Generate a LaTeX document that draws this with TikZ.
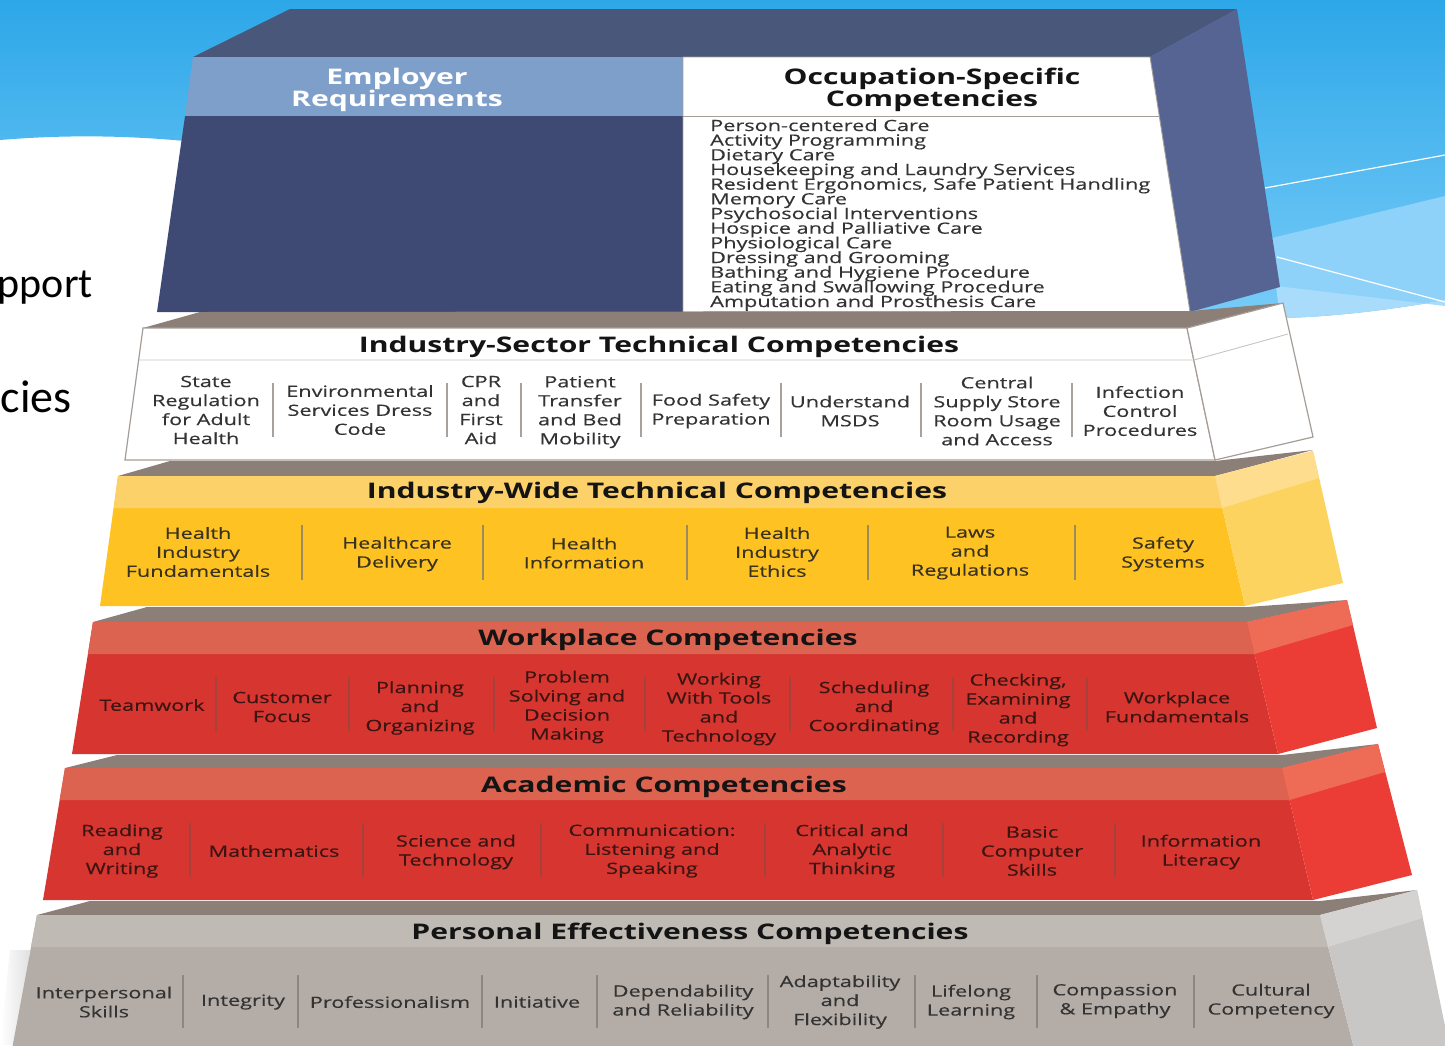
\documentclass[tikz,border=0pt]{standalone}
\usepackage{fontspec}
\newfontfamily\pyr[FakeStretch=1.4]{Open Sans}
\newfontfamily\pyrmed[FakeStretch=1.4,FakeBold=0.3]{Open Sans}
\newfontfamily\slidefont{Carlito}
\definecolor{skytop}{HTML}{2DA7E8}
\definecolor{skybot}{HTML}{78CCF8}
\definecolor{rayA}{HTML}{8ED2FA}
\definecolor{rayB}{HTML}{A8DCFA}
\definecolor{navytop}{HTML}{49577A}
\definecolor{navyside}{HTML}{566493}
\definecolor{navyfront}{HTML}{3F4A74}
\definecolor{empband}{HTML}{7F9FCB}
\definecolor{ledge}{HTML}{8C7F78}
\definecolor{edgegray}{HTML}{A59D97}
\definecolor{yelband}{HTML}{FDD169}
\definecolor{yelmain}{HTML}{FEC323}
\definecolor{yelside}{HTML}{FDD35F}
\definecolor{yelsideband}{HTML}{FEDE8E}
\definecolor{redband}{HTML}{DC6350}
\definecolor{redmain}{HTML}{D63530}
\definecolor{redside}{HTML}{EC3C36}
\definecolor{redsideband}{HTML}{EE6B56}
\definecolor{grayband}{HTML}{C0BAB4}
\definecolor{graymain}{HTML}{B4ACA6}
\definecolor{grayside}{HTML}{C9C7C5}
\definecolor{graysideband}{HTML}{D5D3D1}
\definecolor{txtdark}{HTML}{333333}
\definecolor{txtyel}{HTML}{3A3220}
\definecolor{txtred}{HTML}{3A1512}
\definecolor{divwhite}{HTML}{A8A29D}
\definecolor{divyel}{HTML}{9C8B5F}
\definecolor{divred}{HTML}{A6423C}
\definecolor{divgray}{HTML}{8E8680}
\begin{document}
\begin{tikzpicture}[x=1pt,y=-1pt,
  itm/.style={font=\pyrmed\fontsize{15.5}{19}\selectfont, align=center, inner sep=0pt},
  ttl/.style={font=\pyr\bfseries\fontsize{21.5}{21}\selectfont, align=center, inner sep=0pt, text=black!92},
  lstitem/.style={font=\pyrmed\fontsize{15.5}{15}\selectfont, inner sep=0pt, anchor=base west, text=txtdark},
  slidetext/.style={font=\slidefont\fontsize{42}{42}\selectfont, inner sep=0pt, anchor=base east, text=black},
  divider/.style={line width=1.3pt}]
\path[use as bounding box] (0,0) rectangle (1445,1045);
\clip (0,0) rectangle (1445,1045);
\fill[white] (0,0) rectangle (1445,1045);

% sky with curved lower edge
\shade[top color=skytop, bottom color=skybot]
  (0,0) -- (1445,0) -- (1445,300) .. controls (1390,310) and (1330,317) .. (1280,318)
  -- (700,318) -- (185,141) .. controls (120,135) and (60,135) .. (0,140) -- cycle;
\fill[rayA] (1272,238) -- (1445,196) -- (1445,300) .. controls (1390,310) and (1330,317) .. (1280,318) -- cycle;
\fill[rayB] (1276,286) -- (1445,306) -- (1445,300) .. controls (1390,310) and (1330,317) .. (1280,318) -- cycle;
\draw[white, line width=1.2pt] (1265,188) -- (1445,155);
\draw[white, line width=1.2pt] (1277,257) -- (1445,302);

% slide text at the left
\node[slidetext] (txtA) at (93,297) {pport};
\node[slidetext, font=\slidefont\fontsize{46}{46}\selectfont] (txtB) at (72,412) {cies};

% soft shadow beside the base tier
\shade[left color=white, right color=black!12] (10,950) -- (30,950) -- (18,1045) -- (0,1045) -- cycle;

% ---------- top block: employer / occupation ----------
\fill[navytop] (193,57) -- (290,9) -- (1237,9) -- (1150,57) -- cycle;
\fill[navyside] (1150,57) -- (1237,9) -- (1280,287) -- (1190,312) -- cycle;
\fill[empband] (193,57) -- (683,57) -- (683,116) -- (185,116) -- cycle;
\fill[navyfront] (185,116) -- (683,116) -- (683,312) -- (157,312) -- cycle;
\filldraw[fill=white, draw=edgegray, line width=0.9pt] (683,57) -- (1150,57) -- (1190,312) -- (683,312) -- cycle;
\draw[edgegray, line width=0.9pt] (683,116) -- (1159,116);
\node[ttl, text=white] (emp) at (397,90) {Employer\\Requirements};
\node[ttl] (occ) at (932,90) {Occupation-Specific\\Competencies};
\foreach \t [count=\i] in {Person-centered Care, Activity Programming, Dietary Care,
  Housekeeping and Laundry Services, {Resident Ergonomics, Safe Patient Handling},
  Memory Care, Psychosocial Interventions, Hospice and Palliative Care,
  Physiological Care, Dressing and Grooming, Bathing and Hygiene Procedure,
  Eating and Swallowing Procedure, Amputation and Prosthesis Care}
  \node[lstitem] (occ\i) at (710,{131+14.67*(\i-1)}) {\t};

% ---------- industry-sector tier ----------
\fill[ledge] (143,328) -- (200,312) -- (1190,311) -- (1283,303) -- (1187,328) -- cycle;
\filldraw[fill=white, draw=edgegray, line width=1.2pt] (143,328) -- (1187,328) -- (1215,460) -- (125,460) -- cycle;
\filldraw[fill=white, draw=edgegray, line width=1.2pt] (1187,328) -- (1283,303) -- (1313,437) -- (1215,460) -- cycle;
\draw[edgegray!60, line width=0.9pt] (139,360) -- (1194,360) -- (1288,334);
\node[ttl] (sec) at (659,346.5) {Industry-Sector Technical Competencies};
\begin{scope}[every node/.style={itm, text=txtdark}]
\node (s1) at (206,410) {State\\Regulation\\for Adult\\Health};
\node (s2) at (360,410) {Environmental\\Services Dress\\Code};
\node (s3) at (481,410) {CPR\\and\\First\\Aid};
\node (s4) at (580,412) {Patient\\Transfer\\and Bed\\Mobility};
\node (s5) at (711,411) {Food Safety\\Preparation};
\node (s6) at (850,411) {Understand\\MSDS};
\node (s7) at (997,411) {Central\\Supply Store\\Room Usage\\and Access};
\node (s8) at (1140,411) {Infection\\Control\\Procedures};
\end{scope}
\foreach \x in {273,447,521,641,781,921,1072}
  \draw[divider, divwhite] (\x,383) -- (\x,437);

% ---------- industry-wide tier ----------
\fill[ledge] (118,476) -- (170,461) -- (1215,461) -- (1313,450) -- (1215,476) -- cycle;
\fill[yelmain] (118,476) -- (1215,476) -- (1245,606) -- (100,606) -- cycle;
\fill[yelband] (118,476) -- (1215,476) -- (1222,508) -- (114,508) -- cycle;
\fill[yelside] (1215,476) -- (1313,451) -- (1343,583) -- (1245,606) -- cycle;
\fill[yelsideband] (1215,476) -- (1313,451) -- (1319,478) -- (1222,508) -- cycle;
\node[ttl] (wide) at (657,492.5) {Industry-Wide Technical Competencies};
\begin{scope}[every node/.style={itm, text=txtyel}]
\node (w1) at (198,552) {Health\\Industry\\Fundamentals};
\node (w2) at (397,554) {Healthcare\\Delivery};
\node (w3) at (584,553) {Health\\Information};
\node (w4) at (777,552) {Health\\Industry\\Ethics};
\node (w5) at (970,553) {Laws\\and\\Regulations};
\node (w6) at (1163,554) {Safety\\Systems};
\end{scope}
\foreach \x in {302,483,687,868,1075}
  \draw[divider, divyel] (\x,525) -- (\x,580);

% ---------- workplace tier ----------
\fill[ledge] (93,622) -- (147,607) -- (1247,607) -- (1347,600) -- (1247,622) -- cycle;
\fill[redmain] (93,622) -- (1247,622) -- (1278,754) -- (72,754) -- cycle;
\fill[redband] (93,622) -- (1247,622) -- (1254.5,654) -- (88,654) -- cycle;
\fill[redside] (1247,622) -- (1347,600) -- (1377,728) -- (1278,754) -- cycle;
\fill[redsideband] (1247,622) -- (1347,600) -- (1353,625) -- (1254.5,654) -- cycle;
\node[ttl] (wp) at (668,639.5) {Workplace Competencies};
\begin{scope}[every node/.style={itm, text=txtred}]
\node (p1) at (152,705) {Teamwork};
\node (p2) at (282,707) {Customer\\Focus};
\node (p3) at (420,708) {Planning\\and\\Organizing};
\node (p4) at (567,707) {Problem\\Solving and\\Decision\\Making};
\node (p5) at (719,709) {Working\\With Tools\\and\\Technology};
\node (p6) at (874,708) {Scheduling\\and\\Coordinating};
\node (p7) at (1018,710) {Checking,\\Examining\\and\\Recording};
\node (p8) at (1177,707) {Workplace\\Fundamentals};
\end{scope}
\foreach \x in {216,349,494,645,790,953,1087}
  \draw[divider, divred] (\x,677) -- (\x,731);

% ---------- academic tier ----------
\fill[ledge] (65,768) -- (117,755) -- (1282,755) -- (1378,744) -- (1282,768) -- cycle;
\fill[redmain] (65,768) -- (1282,768) -- (1313,900) -- (43,900) -- cycle;
\fill[redband] (65,768) -- (1282,768) -- (1289.5,800) -- (59.7,800) -- cycle;
\fill[redside] (1282,768) -- (1378,744) -- (1412,875) -- (1313,900) -- cycle;
\fill[redsideband] (1282,768) -- (1378,744) -- (1385,772) -- (1289.5,800) -- cycle;
\node[ttl] (acad) at (664,786.5) {Academic Competencies};
\begin{scope}[every node/.style={itm, text=txtred}]
\node (a1) at (122,851) {Reading\\and\\Writing};
\node (a2) at (274,851) {Mathematics};
\node (a3) at (456,852) {Science and\\Technology};
\node (a4) at (652,851) {Communication:\\Listening and\\Speaking};
\node (a5) at (852,851) {Critical and\\Analytic\\Thinking};
\node (a6) at (1032,851) {Basic\\Computer\\Skills};
\node (a7) at (1201,852) {Information\\Literacy};
\end{scope}
\foreach \x in {190,363,541,765,943,1115}
  \draw[divider, divred] (\x,823) -- (\x,877);

% ---------- personal effectiveness tier ----------
\fill[ledge] (37,915) -- (90,901) -- (1320,901) -- (1417,890) -- (1320,915) -- cycle;
\fill[graymain] (37,915) -- (1320,915) -- (1357,1060) -- (10,1060) -- cycle;
\fill[grayband] (37,915) -- (1320,915) -- (1328,947) -- (31,947) -- cycle;
\fill[grayside] (1320,915) -- (1417,890) -- (1452,1060) -- (1357,1060) -- cycle;
\fill[graysideband] (1320,915) -- (1417,890) -- (1423,918) -- (1328,947) -- cycle;
\node[ttl] (pers) at (690,933.5) {Personal Effectiveness Competencies};
\begin{scope}[every node/.style={itm, text=txtdark}]
\node (e1) at (104,1002) {Interpersonal\\Skills};
\node (e2) at (243,1002) {Integrity};
\node (e3) at (390,1002) {Professionalism};
\node (e4) at (537,1002) {Initiative};
\node (e5) at (683,1002) {Dependability\\and Reliability};
\node (e6) at (840,1002) {Adaptability\\and\\Flexibility};
\node (e7) at (971,1002) {Lifelong\\Learning};
\node (e8) at (1115,1001) {Compassion\\\& Empathy};
\node (e9) at (1271,1001) {Cultural\\Competency};
\end{scope}
\foreach \x in {183,298,482,597,768,915,1037,1194}
  \draw[divider, divgray] (\x,975) -- (\x,1028);
\end{tikzpicture}
\end{document}
